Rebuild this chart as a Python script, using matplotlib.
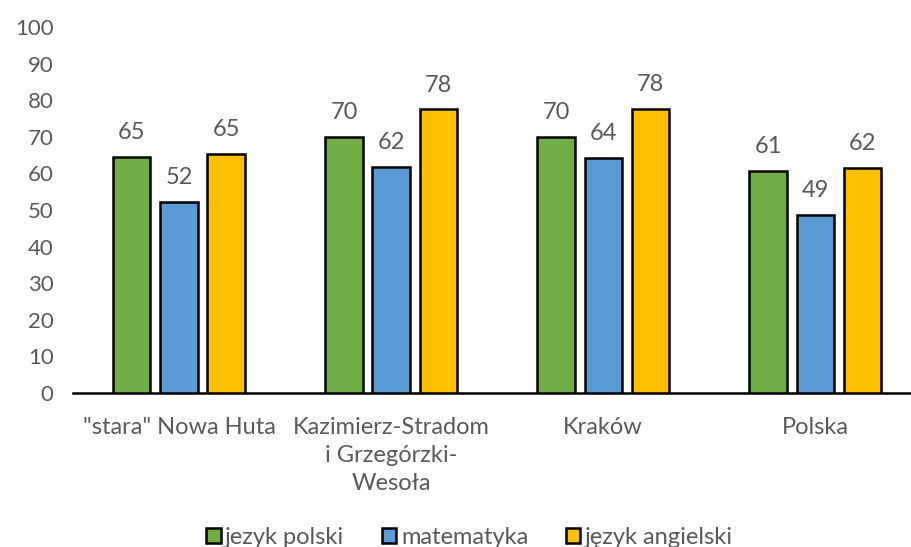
import matplotlib
matplotlib.use("Agg")
import matplotlib.pyplot as plt
import numpy as np

categories = ['"stara" Nowa Huta', "Kazimierz-Stradom\ni Grzegórzki-\nWesoła", "Kraków", "Polska"]
series_names = ["jezyk polski", "matematyka", "język angielski"]
polski = [64.6, 70.0, 70.0, 60.6]
matematyka = [52.2, 61.7, 64.2, 48.6]
angielski = [65.3, 77.5, 77.7, 61.6]
colors = ["#70AD47", "#5B9BD5", "#FFC000"]
yticks = [0, 10, 20, 30, 40, 50, 60, 70, 80, 90, 100]

plt.rcParams["font.family"] = ["Lato", "DejaVu Sans"]
text_color = "#595959"

fig = plt.figure(figsize=(9.12, 5.47), dpi=100)
ax = fig.add_axes([0.08, 0.2815, 0.93, 0.669])

x = np.arange(len(categories))
width = 0.175
step = 0.222
for i, (vals, name, c) in enumerate(zip([polski, matematyka, angielski], series_names, colors)):
    bars = ax.bar(x + (i - 1) * step, vals, width, color=c, edgecolor="black",
                  linewidth=1.8, label=name, zorder=3)
    for b, v in zip(bars, vals):
        ax.annotate(f"{v:.0f}", (b.get_x() + b.get_width() / 2, v),
                    textcoords="offset points", xytext=(0, 10), ha="center",
                    va="bottom", fontsize=17, color=text_color)

ax.set_xlim(-0.5, 3.5)
ax.set_ylim(0, 100)
ax.set_yticks(yticks)
ax.set_xticks(x)
ax.set_xticklabels(categories, linespacing=1.42, fontsize=17)
ax.tick_params(axis="y", labelsize=16)
ax.tick_params(axis="both", length=0, colors=text_color)
ax.tick_params(axis="x", pad=17)
ax.tick_params(axis="y", pad=14)
for s in ["top", "right", "left"]:
    ax.spines[s].set_visible(False)
ax.spines["bottom"].set_linewidth(1.8)
ax.spines["bottom"].set_color("black")

leg = fig.legend(loc="lower center", bbox_to_anchor=(0.515, -0.04), ncol=3,
                 frameon=False, fontsize=17, handlelength=0.6, handleheight=0.6,
                 handletextpad=0.2, columnspacing=1.6)
for t in leg.get_texts():
    t.set_color(text_color)

fig.savefig("out.png", dpi=100)
